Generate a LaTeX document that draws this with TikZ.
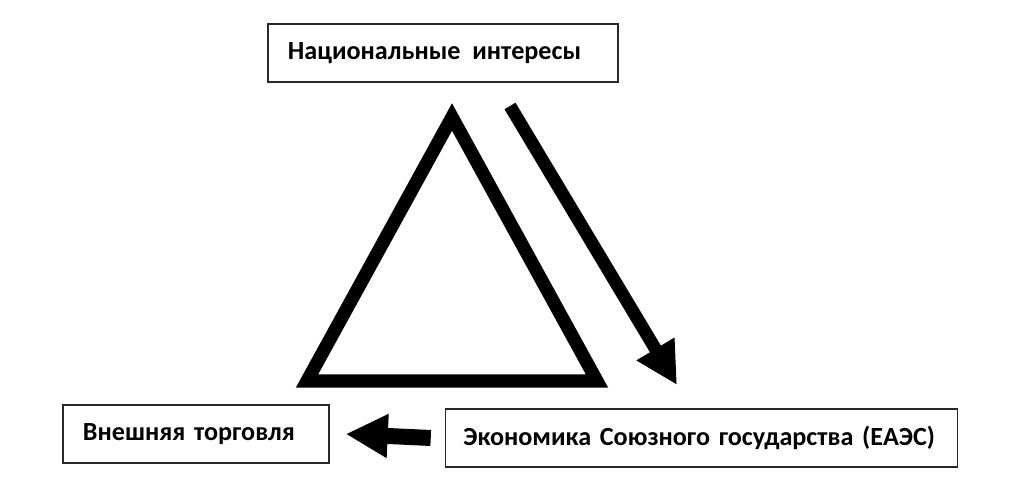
\documentclass[tikz,border=0pt]{standalone}
\usepackage{fontspec}
\setmainfont{Carlito}
\usepackage{tikz}
\usetikzlibrary{arrows.meta, positioning, calc}
\definecolor{boxline}{RGB}{40,40,40}
\definecolor{arrowblack}{RGB}{0,0,0}
\tikzset{
  %% ---- boxes ----
  labelbox/.style = {rectangle, draw=boxline, line width=1pt,
                     fill=white, text width=#1, align=left,
                     inner xsep=0.5cm, minimum height=1.45cm,
                     font=\fontsize{18.6}{22}\selectfont\bfseries},
  labelbox/.default = 7.75cm,
  %% ---- shapes and arrows ----
  triline/.style  = {draw=arrowblack, line width=0.33cm, line join=miter},
  fatarrow/.style = {-{Triangle[length=1.05cm, width=1.03cm]},
                     color=arrowblack, line width=#1},
  fatarrow/.default = 0.4cm,
}
\begin{document}
\begin{tikzpicture}[x=0.025cm, y=-0.025cm]
  \useasboundingbox (0,0) rectangle (1024,499);

  %% boxes
  \node[labelbox] (nat) at (443,53) {Национальные\hspace{0.45em}интересы};
  \node[labelbox=5.65cm] (trade) at (196,434) {Внешняя торговля};
  \node[labelbox=11.9cm, inner xsep=0.45cm] (econ) at (701.5,438)
    {Экономика Союзного государства (ЕАЭС)};

  %% triangle
  \coordinate (tritop)   at (452,117);
  \coordinate (trileft)  at (307,381);
  \coordinate (triright) at (597,381);
  \draw[triline] (tritop) -- (trileft) -- (triright) -- cycle;

  %% arrows
  \coordinate (flowstart) at (510,106);
  \coordinate (flowend)   at (677,385);
  \draw[fatarrow=0.32cm] (flowstart) -- (flowend);
  \draw[fatarrow] ([xshift=-0.35cm]econ.west) -- ([xshift=0.4cm]trade.east);

\end{tikzpicture}
\end{document}
